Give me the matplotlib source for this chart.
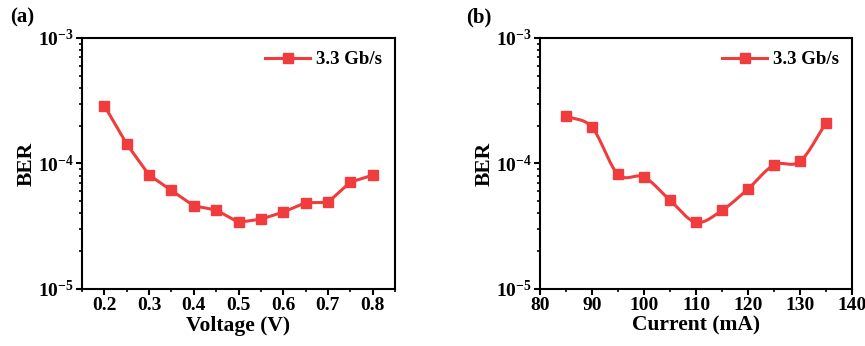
import matplotlib
matplotlib.use("Agg")
import matplotlib.pyplot as plt
import numpy as np
from matplotlib.ticker import LogLocator, MultipleLocator, LogFormatterMathtext

plt.rcParams['font.family'] = ['Liberation Serif', 'DejaVu Serif']
plt.rcParams['font.weight'] = 'bold'
plt.rcParams['mathtext.fontset'] = 'custom'
plt.rcParams['mathtext.rm'] = 'Liberation Serif:bold'
plt.rcParams['mathtext.default'] = 'rm'

# data
voltage = [0.2, 0.25, 0.3, 0.35, 0.4, 0.45, 0.5, 0.55, 0.6, 0.65, 0.7, 0.75, 0.8]
ber_voltage = [2.89e-4, 1.43e-4, 8.1e-5, 6.1e-5, 4.6e-5, 4.26e-5, 3.4e-5,
               3.6e-5, 4.1e-5, 4.87e-5, 4.9e-5, 7.1e-5, 8.07e-5]

current = [85, 90, 95, 100, 105, 110, 115, 120, 125, 130, 135]
ber_current = [2.39e-4, 1.94e-4, 8.2e-5, 7.8e-5, 5.1e-5, 3.4e-5,
               4.23e-5, 6.27e-5, 9.75e-5, 1.04e-4, 2.1e-4]

RED = '#f03c3c'


def catmull_rom(x, y, n=30):
    # smooth curve through the points (in log space for y)
    x = np.asarray(x, float)
    y = np.log10(np.asarray(y, float))
    px = np.concatenate([[2 * x[0] - x[1]], x, [2 * x[-1] - x[-2]]])
    py = np.concatenate([[2 * y[0] - y[1]], y, [2 * y[-1] - y[-2]]])
    xs, ys = [], []
    for i in range(1, len(px) - 2):
        t = np.linspace(0, 1, n, endpoint=False)
        for p, out in ((px, xs), (py, ys)):
            p0, p1, p2, p3 = p[i - 1], p[i], p[i + 1], p[i + 2]
            out.append(0.5 * ((2 * p1) + (-p0 + p2) * t
                              + (2 * p0 - 5 * p1 + 4 * p2 - p3) * t ** 2
                              + (-p0 + 3 * p1 - 3 * p2 + p3) * t ** 3))
    xs.append([x[-1]])
    ys.append([y[-1]])
    return np.concatenate(xs), 10 ** np.concatenate(ys)


def style_axes(ax):
    ax.set_yscale('log')
    ax.set_ylim(1e-5, 1e-3)
    ax.yaxis.set_major_locator(LogLocator(base=10, numticks=5))
    ax.yaxis.set_minor_locator(LogLocator(base=10, subs=np.arange(2, 10), numticks=10))
    ax.yaxis.set_major_formatter(LogFormatterMathtext())
    ax.tick_params(which='major', direction='out', length=4, width=1.5,
                   labelsize=14, top=False, right=False, pad=2)
    ax.tick_params(which='minor', direction='out', length=2, width=1.2,
                   top=False, right=False)
    for s in ax.spines.values():
        s.set_linewidth(1.5)
    for lab in ax.get_xticklabels() + ax.get_yticklabels():
        lab.set_fontweight('bold')
    ax.set_ylabel('BER', fontsize=15.5, fontweight='bold', labelpad=1)
    ax.legend(loc='upper right', frameon=False,
              prop={'weight': 'bold', 'size': 13.5}, handlelength=2.4,
              handletextpad=0.3, borderaxespad=0.3)


fig = plt.figure(figsize=(8.65, 3.46), dpi=100)
ax1 = fig.add_axes([82 / 865, 1 - 289 / 346, 313 / 865, 251 / 346])
ax2 = fig.add_axes([540 / 865, 1 - 289 / 346, 312 / 865, 251 / 346])

ax1.plot(voltage, ber_voltage, color=RED, lw=2.2, marker='s', ms=6.5,
         label='3.3 Gb/s')
ax1.set_xlim(0.15, 0.85)
ax1.xaxis.set_major_locator(MultipleLocator(0.1))
ax1.xaxis.set_minor_locator(MultipleLocator(0.05))
ax1.set_xlabel('Voltage (V)', fontsize=15.5, fontweight='bold', labelpad=1)
style_axes(ax1)

sx, sy = catmull_rom(current, ber_current)
ax2.plot(sx, sy, color=RED, lw=2.2)
ax2.plot(current, ber_current, color=RED, lw=0, marker='s', ms=6.5)
ax2.plot([], [], color=RED, lw=2.2, marker='s', ms=6.5, label='3.3 Gb/s')
ax2.set_xlim(80, 140)
ax2.xaxis.set_major_locator(MultipleLocator(10))
ax2.xaxis.set_minor_locator(MultipleLocator(5))
ax2.set_xlabel('Current (mA)', fontsize=15.5, fontweight='bold', labelpad=1)
style_axes(ax2)

fig.text(10 / 865, 1 - 17 / 346, '(a)', fontsize=15, fontweight='bold', va='center')
fig.text(466 / 865, 1 - 17 / 346, '(b)', fontsize=15, fontweight='bold', va='center')

fig.savefig('out.png', dpi=100)
